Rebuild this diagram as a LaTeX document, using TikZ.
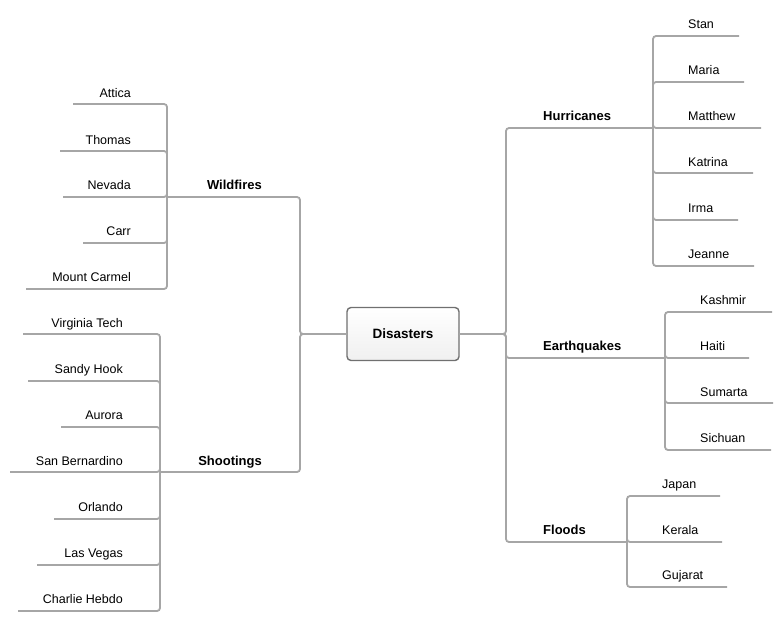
\documentclass[tikz,border=0pt]{standalone}
\usepackage{fontspec}
\setmainfont{Liberation Sans}
\definecolor{linegray}{RGB}{166,166,166}
\definecolor{boxgray}{RGB}{112,112,112}
\begin{document}
\begin{tikzpicture}[x=1pt,y=-1pt,
  conn/.style={draw=linegray, line width=1.8pt, rounded corners=3pt},
  leaf/.style={font=\fontsize{12.5}{14}\selectfont, inner sep=0pt, text=black},
  leafl/.style={leaf, anchor=base east},
  leafr/.style={leaf, anchor=base west},
  topicl/.style={font=\fontsize{13}{15}\bfseries\selectfont, inner sep=0pt, anchor=base east, text=black},
  topicr/.style={font=\fontsize{13}{15}\bfseries\selectfont, inner sep=0pt, anchor=base west, text=black},
  rootbox/.style={draw=boxgray, line width=1.4pt, rounded corners=4pt, top color=white, bottom color=gray!12,
    minimum width=112pt, minimum height=53pt, inner sep=0pt, font=\fontsize{13.5}{15}\bfseries\selectfont}]
\useasboundingbox (0,0) rectangle (783,621);

% root
\node[rootbox] (root) at (403,334) {Disasters};
\coordinate (lj) at (300,334);
\coordinate (rj) at (506,334);

% ---------- left: Wildfires ----------
\coordinate (wj) at (167,197);
\node[topicl] (wild) at (262,189) {Wildfires};
\coordinate (attica) at (73,104);
\coordinate (thomas) at (60,151);
\coordinate (nevada) at (63,197);
\coordinate (carr) at (83,243);
\coordinate (mount) at (26,289);
\node[leafl] (tattica) at (131,97) {Attica};
\node[leafl] (tthomas) at (131,144) {Thomas};
\node[leafl] (tnevada) at (131,189.5) {Nevada};
\node[leafl] (tcarr) at (131,235.5) {Carr};
\node[leafl] (tmount) at (131,281.5) {Mount Carmel};

% ---------- left: Shootings ----------
\coordinate (sj) at (160,472);
\node[topicl] (shoot) at (262,465) {Shootings};
\coordinate (vt) at (23,334);
\coordinate (sh) at (28,381);
\coordinate (au) at (61,427);
\coordinate (sb) at (10,472);
\coordinate (or) at (54,519);
\coordinate (lv) at (37,565);
\coordinate (ch) at (18,611);
\node[leafl] (tvt) at (123,327) {Virginia Tech};
\node[leafl] (tsh) at (123,373.5) {Sandy Hook};
\node[leafl] (tau) at (123,419.5) {Aurora};
\node[leafl] (tsb) at (123,465) {San Bernardino};
\node[leafl] (tor) at (123,511.5) {Orlando};
\node[leafl] (tlv) at (123,557.5) {Las Vegas};
\node[leafl] (tch) at (123,603.5) {Charlie Hebdo};

% ---------- right: Hurricanes ----------
\coordinate (hj) at (653,128);
\node[topicr] (hurr) at (543,120) {Hurricanes};
\coordinate (stan) at (739,36);
\coordinate (maria) at (744,82);
\coordinate (matthew) at (761,128);
\coordinate (katrina) at (753,173);
\coordinate (irma) at (738,220);
\coordinate (jeanne) at (754,266);
\node[leafr] (tstan) at (688,28.5) {Stan};
\node[leafr] (tmaria) at (688,74.5) {Maria};
\node[leafr] (tmatthew) at (688,120.5) {Matthew};
\node[leafr] (tkatrina) at (688,166) {Katrina};
\node[leafr] (tirma) at (688,212.5) {Irma};
\node[leafr] (tjeanne) at (688,258.5) {Jeanne};

% ---------- right: Earthquakes ----------
\coordinate (ej) at (665,358);
\node[topicr] (earth) at (543,350.5) {Earthquakes};
\coordinate (kashmir) at (772,312);
\coordinate (haiti) at (749,358);
\coordinate (sumarta) at (773,403);
\coordinate (sichuan) at (771,450);
\node[leafr] (tkashmir) at (700,304.5) {Kashmir};
\node[leafr] (thaiti) at (700,350.5) {Haiti};
\node[leafr] (tsumarta) at (700,396) {Sumarta};
\node[leafr] (tsichuan) at (700,442.5) {Sichuan};

% ---------- right: Floods ----------
\coordinate (fj) at (627,542);
\node[topicr] (flood) at (543,534.5) {Floods};
\coordinate (japan) at (720,496);
\coordinate (kerala) at (722,542);
\coordinate (gujarat) at (727,587);
\node[leafr] (tjapan) at (662,488.5) {Japan};
\node[leafr] (tkerala) at (662,534.5) {Kerala};
\node[leafr] (tgujarat) at (662,579.5) {Gujarat};

% ---------- connectors ----------
\draw[conn] (root.west) -- (lj) |- (wj);
\draw[conn] (root.west) -- (lj) |- (sj);
\draw[conn] (root.east) -- (rj) |- (hj);
\draw[conn] (root.east) -- (rj) |- (ej);
\draw[conn] (root.east) -- (rj) |- (fj);

\foreach \c in {attica,thomas,nevada,carr,mount}{\draw[conn] (wj) |- (\c);}
\foreach \c in {vt,sh,au,sb,or,lv,ch}{\draw[conn] (sj) |- (\c);}
\foreach \c in {stan,maria,matthew,katrina,irma,jeanne}{\draw[conn] (hj) |- (\c);}
\foreach \c in {kashmir,haiti,sumarta,sichuan}{\draw[conn] (ej) |- (\c);}
\foreach \c in {japan,kerala,gujarat}{\draw[conn] (fj) |- (\c);}
\end{tikzpicture}
\end{document}
